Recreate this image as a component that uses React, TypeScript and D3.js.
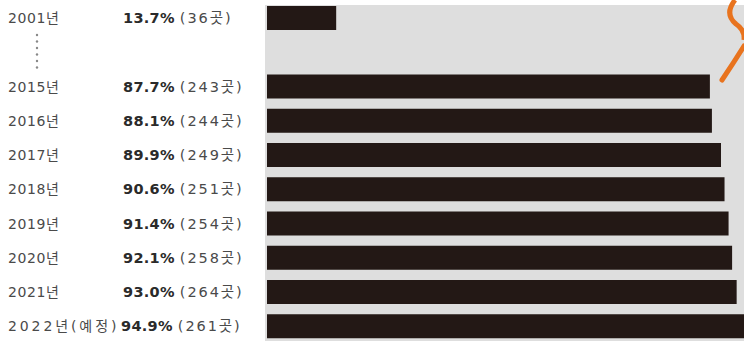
import React from "react";
import * as d3 from "d3";

const years = ["2001년", "2015년", "2016년", "2017년", "2018년", "2019년", "2020년", "2021년", "2022년(예정)"];
const rates = [13.7, 87.7, 88.1, 89.9, 90.6, 91.4, 92.1, 93.0, 94.9];
const counts = [36, 243, 244, 249, 251, 254, 258, 264, 261];

const W = 744;
const H = 341;

export default function App() {
  const slots = ["2001년", "gap", ...years.slice(1)];
  const y = d3.scalePoint<string>().domain(slots).range([18, 18 + 9 * 34.25]);
  const x = d3.scaleLinear().domain([0, 100]).range([267, 772]);
  const barH = 24;
  const font = "'DejaVu Sans', 'Noto Sans CJK KR', sans-serif";
  const dotYs = d3.range(6).map((i) => 35 + i * 6.5);

  return (
    <svg width={W} height={H} style={{ position: "absolute", left: 0, top: 0, background: "#fff" }}>
      <rect x={265} y={5} width={W - 265} height={H - 5} fill="#dedede" />
      {years.map((yr, i) => {
        const cy = y(yr)!;
        return (
          <g key={yr}>
            <rect x={x(0)} y={cy - barH / 2} width={x(rates[i]) - x(0)} height={barH} fill="#231815" />
            <text x={8} y={cy + 5} fontFamily={font} fontSize={14} fill="#4a4a4a" letterSpacing={i === 8 ? 2.9 : 0.6}>
              {yr}
            </text>
            <text x={i === 8 ? 121 : 123} y={cy + 5} fontFamily={font} fontSize={14.5} fill="#2a2a2a" letterSpacing={0.3}>
              <tspan fontWeight="bold">{rates[i].toFixed(1)}%</tspan>
              <tspan dx={5} fill="#4a4a4a" fontSize={14.5} letterSpacing={1.9}>({counts[i]}곳)</tspan>
            </text>
          </g>
        );
      })}
      {dotYs.map((d, i) => (
        <circle key={i} cx={37} cy={d} r={1.2} fill="#888" />
      ))}
      <path d="M 735 0 Q 724 14 736 24 Q 745 30 744 40" fill="none" stroke="#e8731e" strokeWidth={5} />
      <path d="M 744 46 Q 734 62 722 80" fill="none" stroke="#e8731e" strokeWidth={5} strokeLinecap="round" />
    </svg>
  );
}
